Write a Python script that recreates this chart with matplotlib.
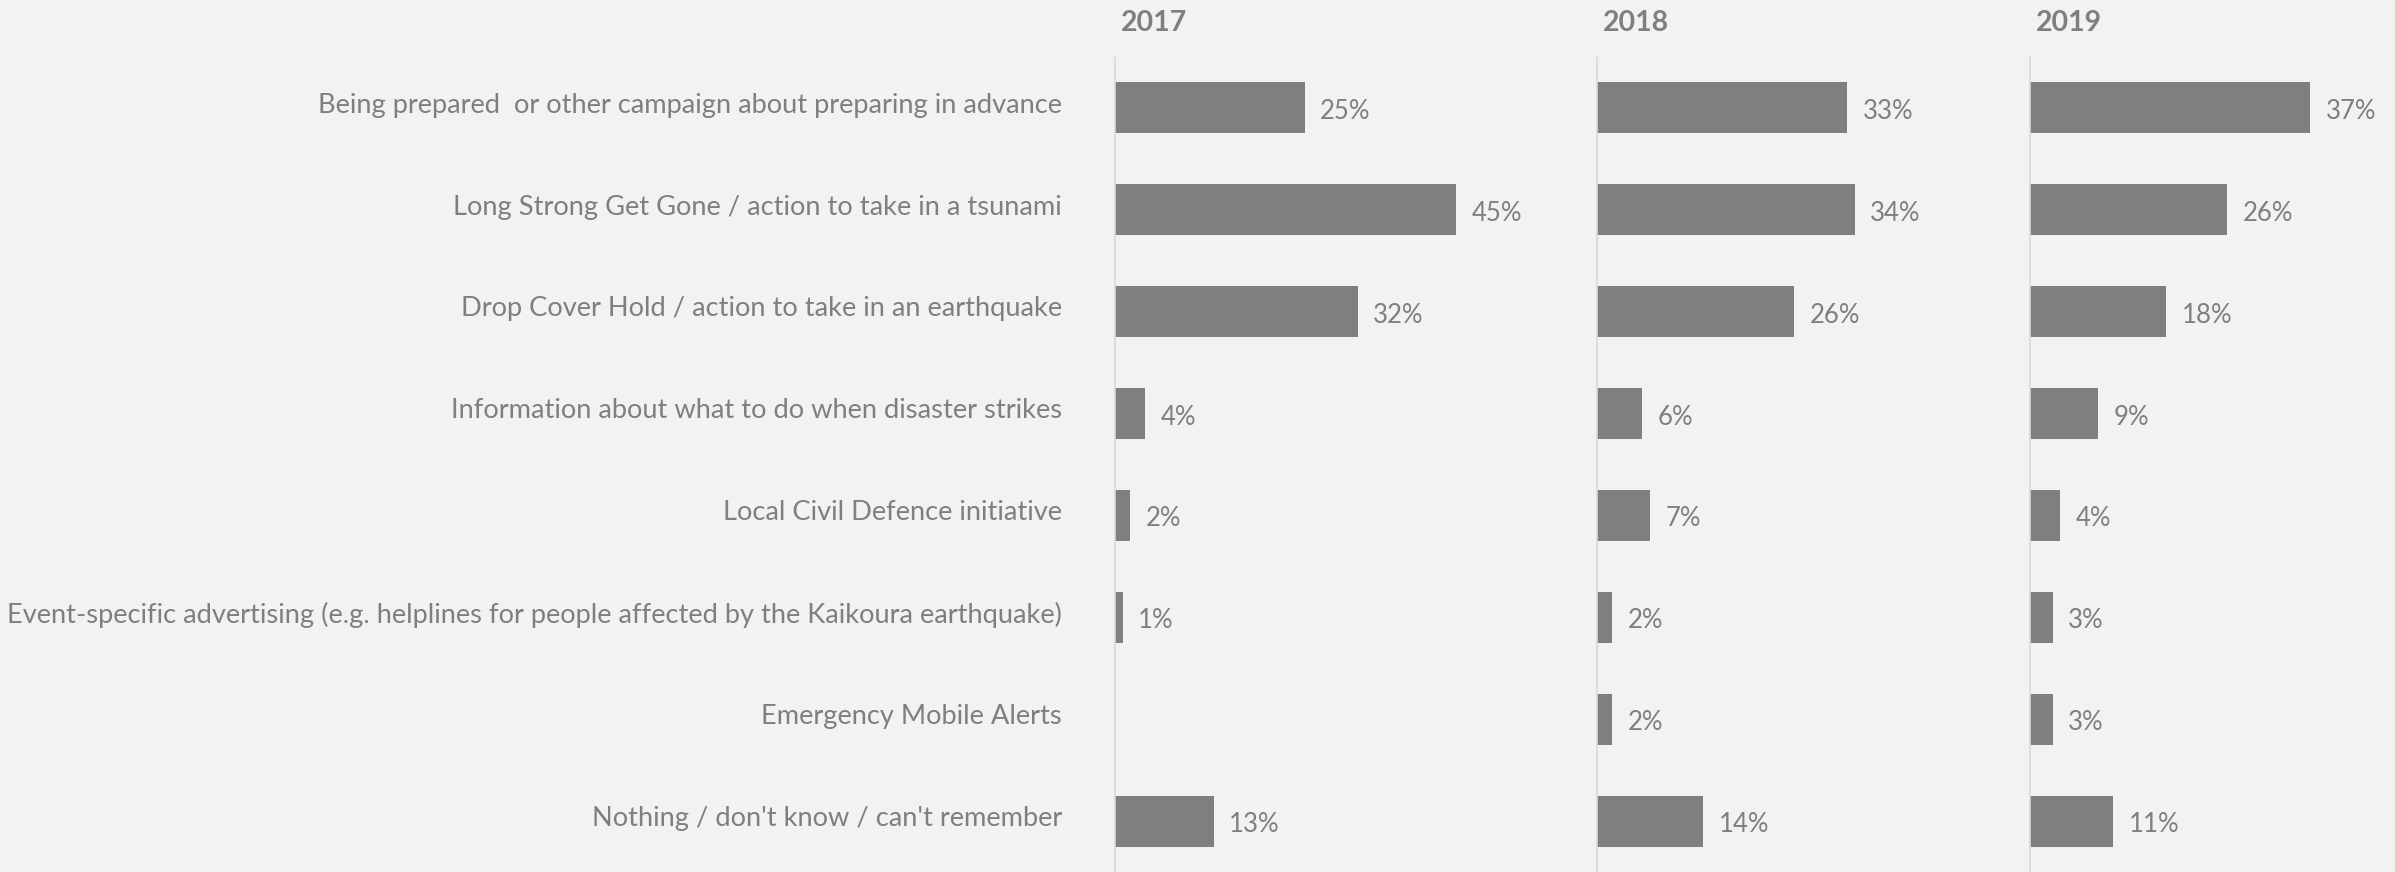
import matplotlib
matplotlib.use("Agg")
import matplotlib.pyplot as plt
import numpy as np

plt.rcParams['font.family'] = ['Lato', 'DejaVu Sans']

categories = [
    "Being prepared  or other campaign about preparing in advance",
    "Long Strong Get Gone / action to take in a tsunami",
    "Drop Cover Hold / action to take in an earthquake",
    "Information about what to do when disaster strikes",
    "Local Civil Defence initiative",
    "Event-specific advertising (e.g. helplines for people affected by the Kaikoura earthquake)",
    "Emergency Mobile Alerts",
    "Nothing / don't know / can't remember",
]
years = ["2017", "2018", "2019"]
values_2017 = [25, 45, 32, 4, 2, 1, None, 13]
values_2018 = [33, 34, 26, 6, 7, 2, 2, 14]
values_2019 = [37, 26, 18, 9, 4, 3, 3, 11]
series = [values_2017, values_2018, values_2019]

BG = "#f2f2f2"
BAR = "#7f7f7f"
TXT = "#7f7f7f"
SPINE = "#d9d9d9"

W, H, DPI = 2395, 872, 100
fig = plt.figure(figsize=(W / DPI, H / DPI), dpi=DPI, facecolor=BG)

# panel edges in pixels; all panels share one percent-to-pixel scale
panel_left_px = [1115, 1597, 2030]
panel_right_px = [1597, 2030, 2395]
px_per_pct = 7.58
axes_top_px = 57

y = np.arange(len(categories))
axes = []
for i, (yr, vals) in enumerate(zip(years, series)):
    l, r = panel_left_px[i], panel_right_px[i]
    ax = fig.add_axes([l / W, 0, (r - l) / W, (H - axes_top_px) / H])
    ax.set_facecolor(BG)
    ax.set_xlim(0, (r - l) / px_per_pct)
    ax.set_ylim(len(categories) - 0.5, -0.5)
    for j, v in enumerate(vals):
        if v is None:
            continue
        ax.barh(y[j], v, height=0.5, color=BAR, edgecolor="none")
        ax.annotate(f"{v}%", (v, y[j]), xytext=(11, -2.5), textcoords="offset points",
                    va="center", ha="left", fontsize=18.5, color=TXT)
    for s in ["top", "right", "bottom"]:
        ax.spines[s].set_visible(False)
    ax.spines["left"].set_color(SPINE)
    ax.spines["left"].set_linewidth(1.2)
    ax.set_xticks([])
    ax.set_yticks([])
    ax.text(6 / (r - l), (H - 23) / (H - axes_top_px), yr, transform=ax.transAxes,
            ha="left", va="center", fontsize=20.5, fontweight="bold", color=TXT)
    axes.append(ax)

# category labels, right-aligned against the first panel
ax0 = axes[0]
for j, cat in enumerate(categories):
    ax0.annotate(cat, (0, y[j]), xycoords=("axes fraction", "data"),
                 xytext=(-38, 2), textcoords="offset points",
                 ha="right", va="center", fontsize=19.6, color=TXT,
                 annotation_clip=False)

fig.savefig("out.png", dpi=DPI, facecolor=BG)
